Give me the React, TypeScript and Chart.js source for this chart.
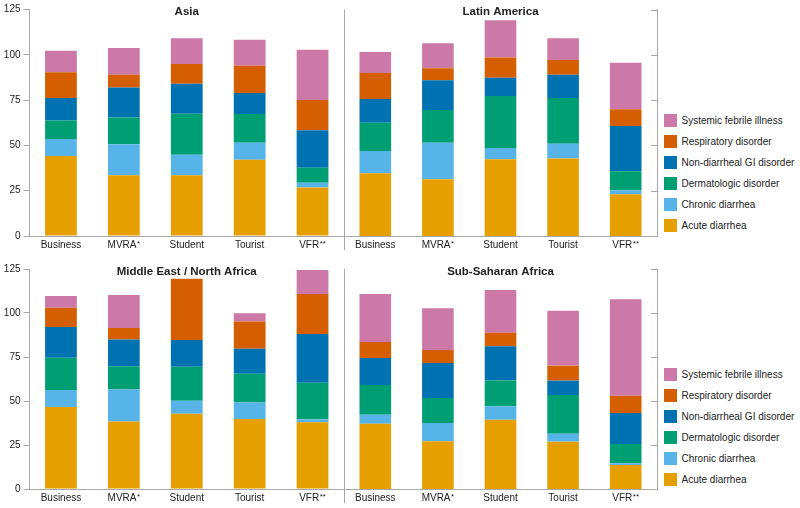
import React, { useEffect, useRef } from 'react';
import { Chart, registerables } from 'chart.js';
Chart.register(...registerables);

const categories = ['Business', 'MVRA', 'Student', 'Tourist', 'VFR'];
const categorySup = ['', '*', '', '', '**'];
const seriesNames = [
  'Acute diarrhea',
  'Chronic diarrhea',
  'Dermatologic disorder',
  'Non-diarrheal GI disorder',
  'Respiratory disorder',
  'Systemic febrile illness',
];
const seriesColors = ['#E69F00', '#56B4E9', '#009E73', '#0072B2', '#D55E00', '#CC79A7'];
const yTicks = [0, 25, 50, 75, 100, 125];

// Asia
const asiaAcute = [44.1, 33.5, 33.5, 42.1, 26.7];
const asiaChronic = [9.4, 17.2, 11.4, 9.4, 2.7];
const asiaDerm = [10.3, 14.7, 22.6, 15.8, 8.3];
const asiaGI = [12.3, 16.6, 16.5, 11.6, 20.6];
const asiaResp = [14.3, 7.0, 10.9, 15.0, 16.7];
const asiaSys = [11.8, 14.7, 14.3, 14.4, 27.8];

// Latin America
const latamAcute = [34.6, 31.3, 42.3, 42.8, 23.0];
const latamChronic = [12.3, 20.2, 6.2, 8.1, 2.2];
const latamDerm = [15.6, 18.0, 28.7, 25.2, 10.5];
const latamGI = [13.1, 16.5, 10.1, 12.9, 25.0];
const latamResp = [14.3, 6.6, 11.2, 8.1, 9.2];
const latamSys = [11.6, 13.8, 20.6, 12.1, 25.7];

// Middle East / North Africa
const menaAcute = [46.6, 38.4, 42.8, 39.8, 37.9];
const menaChronic = [9.7, 18.2, 7.4, 9.3, 1.7];
const menaDerm = [18.3, 13.1, 19.3, 16.4, 20.8];
const menaGI = [17.4, 15.3, 15.2, 14.2, 27.7];
const menaResp = [11.0, 6.5, 34.8, 15.4, 22.7];
const menaSys = [6.7, 18.7, 0, 4.7, 13.6];

// Sub-Saharan Africa
const ssaAcute = [37.1, 27.1, 39.4, 26.9, 13.6];
const ssaChronic = [5.1, 10.4, 7.6, 4.5, 1.0];
const ssaDerm = [16.9, 14.2, 14.6, 22.0, 11.0];
const ssaGI = [15.3, 19.9, 19.5, 8.2, 17.6];
const ssaResp = [9.1, 7.4, 7.7, 8.5, 9.8];
const ssaSys = [27.3, 23.7, 24.3, 31.2, 54.8];

const FONT = '"Liberation Sans", Arial, Helvetica, sans-serif';
const AXIS = '#a8a8a8';
const TEXT = '#222222';

type PanelProps = {
  left: number;
  top: number;
  width: number;
  height: number;
  padTop: number;
  padLeft: number;
  xAxisH: number;
  side: 'left' | 'right';
  title: string;
  series: number[][];
};

function Panel(p: PanelProps) {
  const ref = useRef<HTMLCanvasElement>(null);
  useEffect(() => {
    const isLeft = p.side === 'left';
    const decor = {
      id: 'decor',
      afterDraw(chart: any) {
        const { ctx, chartArea: ca, scales } = chart;
        ctx.save();
        // title
        ctx.fillStyle = TEXT;
        ctx.font = `bold 11.5px ${FONT}`;
        ctx.textAlign = 'center';
        ctx.textBaseline = 'alphabetic';
        ctx.fillText(p.title, (ca.left + ca.right) / 2, ca.top + 5.5);
        // x labels with superscripts
        const xs = scales.x;
        ctx.textAlign = 'left';
        categories.forEach((c, i) => {
          const cx = xs.getPixelForValue(i);
          const sup = categorySup[i];
          ctx.font = `10px ${FONT}`;
          const w1 = ctx.measureText(c).width;
          ctx.font = `8px ${FONT}`;
          const w2 = sup ? ctx.measureText(sup).width + 0.5 : 0;
          const x0 = cx - (w1 + w2) / 2;
          ctx.font = `10px ${FONT}`;
          ctx.fillText(c, x0, ca.bottom + 11.5);
          if (sup) {
            ctx.font = `8px ${FONT}`;
            ctx.fillText(sup, x0 + w1 + 0.5, ca.bottom + 9.5);
          }
        });
        if (!isLeft) {
          ctx.strokeStyle = AXIS;
          ctx.lineWidth = 1;
          // divider
          const dx = Math.round(ca.left) + 0.5;
          ctx.beginPath();
          ctx.moveTo(dx, ca.top);
          ctx.lineTo(dx, ca.bottom + 14);
          ctx.stroke();
          // inward ticks on right axis
          const ys = scales.y;
          yTicks.forEach((v) => {
            const y = Math.round(ys.getPixelForValue(v)) + 0.5;
            ctx.beginPath();
            ctx.moveTo(ca.right - 6, y);
            ctx.lineTo(ca.right, y);
            ctx.stroke();
          });
        }
        ctx.restore();
      },
    };
    const chart = new Chart(ref.current as HTMLCanvasElement, {
      type: 'bar',
      data: {
        labels: categories,
        datasets: seriesNames.map((name, i) => ({
          label: name,
          data: p.series[i],
          backgroundColor: seriesColors[i],
          borderWidth: 0,
          categoryPercentage: 1,
          barPercentage: 0.505,
        })),
      },
      options: {
        animation: false,
        responsive: false,
        devicePixelRatio: 1,
        layout: { padding: { top: p.padTop, left: p.padLeft, right: 0, bottom: 0 } },
        plugins: {
          legend: { display: false },
          tooltip: { enabled: false },
          title: { display: false },
        },
        scales: {
          x: {
            stacked: true,
            grid: { display: false, drawTicks: false },
            border: { display: true, color: AXIS, width: 1 },
            ticks: { display: false },
            afterFit: (s: any) => {
              s.height = p.xAxisH;
            },
          },
          y: {
            stacked: true,
            min: 0,
            max: 125,
            position: isLeft ? 'left' : 'right',
            ticks: {
              display: isLeft,
              stepSize: 25,
              color: TEXT,
              font: { family: FONT, size: 10 },
              padding: 3,
            },
            grid: {
              display: isLeft,
              drawOnChartArea: false,
              drawTicks: true,
              tickLength: 6,
              color: AXIS,
            },
            border: { display: true, color: AXIS, width: 1 },
            afterFit: (s: any) => {
              s.width = isLeft ? 29.5 : 3;
            },
          },
        },
      } as any,
      plugins: [decor],
    });
    return () => chart.destroy();
  }, []);
  return (
    <div style={{ position: 'absolute', left: p.left, top: p.top, width: p.width, height: p.height }}>
      <canvas
        ref={ref}
        width={p.width}
        height={p.height}
        style={{ display: 'block', width: p.width, height: p.height }}
      />
    </div>
  );
}

function Legend({ top }: { top: number }) {
  const order = [5, 4, 3, 2, 1, 0];
  return (
    <>
      {order.map((si, r) => (
        <div
          key={si}
          style={{
            position: 'absolute',
            left: 664,
            top: top + r * 21.07 - 7,
            height: 14,
            display: 'flex',
            alignItems: 'center',
            whiteSpace: 'nowrap',
            fontFamily: FONT,
            fontSize: 10,
            color: TEXT,
          }}
        >
          <span
            style={{
              display: 'inline-block',
              width: 13,
              height: 13,
              background: seriesColors[si],
              marginRight: 4.5,
            }}
          />
          <span>{seriesNames[si]}</span>
        </div>
      ))}
    </>
  );
}

export default function App() {
  return (
    <div style={{ position: 'absolute', left: 0, top: 0, width: 800, height: 508, background: '#fff', overflow: 'hidden' }}>
      <Panel left={0} top={0} width={344} height={250} padTop={9.5} padLeft={0} xAxisH={14} side="left" title="Asia"
        series={[asiaAcute, asiaChronic, asiaDerm, asiaGI, asiaResp, asiaSys]} />
      <Panel left={334} top={0} width={326} height={250} padTop={9.5} padLeft={10} xAxisH={14} side="right" title="Latin America"
        series={[latamAcute, latamChronic, latamDerm, latamGI, latamResp, latamSys]} />
      <Panel left={0} top={250} width={344} height={258} padTop={19} padLeft={0} xAxisH={19} side="left" title="Middle East / North Africa"
        series={[menaAcute, menaChronic, menaDerm, menaGI, menaResp, menaSys]} />
      <Panel left={334} top={250} width={326} height={258} padTop={19} padLeft={10} xAxisH={19} side="right" title="Sub-Saharan Africa"
        series={[ssaAcute, ssaChronic, ssaDerm, ssaGI, ssaResp, ssaSys]} />
      <Legend top={120.6} />
      <Legend top={374.6} />
    </div>
  );
}
